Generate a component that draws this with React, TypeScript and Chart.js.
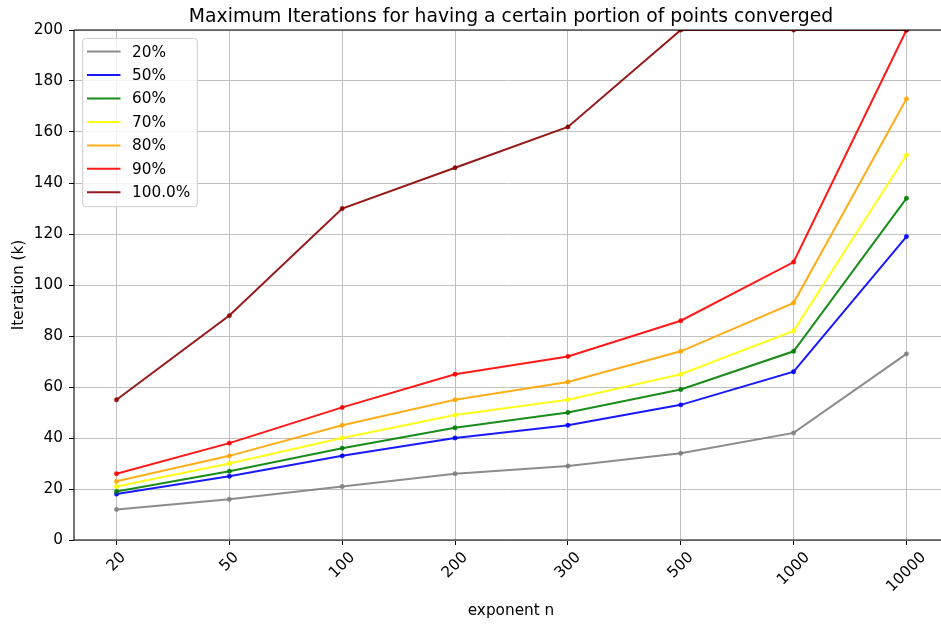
import React, { useEffect, useRef } from "react";
import { Chart, registerables } from "chart.js";

Chart.register(...registerables);

const CATEGORIES = ["20", "50", "100", "200", "300", "500", "1000", "10000"];
const SERIES_LABELS = ["20%", "50%", "60%", "70%", "80%", "90%", "100.0%"];
const S20 = [12, 16, 21, 26, 29, 34, 42, 73];
const S50 = [18, 25, 33, 40, 45, 53, 66, 119];
const S60 = [19, 27, 36, 44, 50, 59, 74, 134];
const S70 = [21, 30, 40, 49, 55, 65, 82, 151];
const S80 = [23, 33, 45, 55, 62, 74, 93, 173];
const S90 = [26, 38, 52, 65, 72, 86, 109, 200];
const S100 = [55, 88, 130, 146, 162, 200, 200, 200];
const Y_MIN = 0;
const Y_MAX = 200;
const Y_STEP = 20;

const TITLE = "Maximum Iterations for having a certain portion of points converged";
const X_TITLE = "exponent n";
const Y_TITLE = "Iteration (k)";

const SERIES = [S20, S50, S60, S70, S80, S90, S100];
const COLORS = [
  "rgba(128,128,128,0.9)",
  "rgba(0,0,255,0.9)",
  "rgba(0,128,0,0.9)",
  "rgba(255,255,0,0.9)",
  "rgba(255,165,0,0.9)",
  "rgba(255,0,0,0.9)",
  "rgba(139,0,0,0.9)",
];

const FONT = '"DejaVu Sans", "Liberation Sans", sans-serif';
const FS = 15.3;
const TITLE_FS = 18.8;

const overlayPlugin = {
  id: "overlay",
  afterDatasetsDraw(chart: any) {
    const { ctx, chartArea: a } = chart;
    const xs = chart.scales.x;
    ctx.save();
    // spines
    ctx.strokeStyle = "#000";
    ctx.lineWidth = 1.1;
    ctx.beginPath();
    ctx.moveTo(a.left, a.top);
    ctx.lineTo(a.right, a.top);
    ctx.moveTo(a.left, a.top);
    ctx.lineTo(a.left, a.bottom);
    ctx.lineTo(a.right, a.bottom);
    ctx.stroke();

    // title
    const cx = (a.left + 948) / 2;
    ctx.fillStyle = "#000";
    ctx.font = `${TITLE_FS}px ${FONT}`;
    ctx.textAlign = "center";
    ctx.textBaseline = "alphabetic";
    ctx.fillText(TITLE, cx, 21.5);

    // x tick labels rotated 45, centered on tick
    ctx.font = `${FS}px ${FONT}`;
    CATEGORIES.forEach((lab, i) => {
      const px = xs.getPixelForValue(i);
      const w = ctx.measureText(lab).width;
      const h = FS * 1.1;
      const side = (w + h) * Math.SQRT1_2;
      const cy = a.bottom + 9.2 + side / 2;
      ctx.save();
      ctx.translate(px, cy);
      ctx.rotate(-Math.PI / 4);
      ctx.textAlign = "center";
      ctx.textBaseline = "middle";
      ctx.fillText(lab, 0, 0);
      ctx.restore();
    });

    // x axis title
    ctx.textAlign = "center";
    ctx.textBaseline = "alphabetic";
    ctx.fillText(X_TITLE, cx, 615);

    // y axis title
    ctx.save();
    ctx.translate(19, (a.top + a.bottom) / 2);
    ctx.rotate(-Math.PI / 2);
    ctx.textAlign = "center";
    ctx.textBaseline = "middle";
    ctx.fillText(Y_TITLE, 0, 0);
    ctx.restore();

    // legend
    const lx = 82.7, ly = 38.3, lw = 114.6, lh = 168.4, r = 3.5;
    ctx.beginPath();
    ctx.moveTo(lx + r, ly);
    ctx.lineTo(lx + lw - r, ly);
    ctx.quadraticCurveTo(lx + lw, ly, lx + lw, ly + r);
    ctx.lineTo(lx + lw, ly + lh - r);
    ctx.quadraticCurveTo(lx + lw, ly + lh, lx + lw - r, ly + lh);
    ctx.lineTo(lx + r, ly + lh);
    ctx.quadraticCurveTo(lx, ly + lh, lx, ly + lh - r);
    ctx.lineTo(lx, ly + r);
    ctx.quadraticCurveTo(lx, ly, lx + r, ly);
    ctx.closePath();
    ctx.fillStyle = "rgba(255,255,255,0.8)";
    ctx.fill();
    ctx.strokeStyle = "#cccccc";
    ctx.lineWidth = 1;
    ctx.stroke();

    SERIES_LABELS.forEach((lab, i) => {
      const y = 51.6 + i * 23.45;
      ctx.strokeStyle = COLORS[i];
      ctx.lineWidth = 2;
      ctx.beginPath();
      ctx.moveTo(87, y);
      ctx.lineTo(120.5, y);
      ctx.stroke();
      ctx.fillStyle = "#000";
      ctx.textAlign = "left";
      ctx.textBaseline = "middle";
      ctx.fillText(lab, 132, y + 1);
    });
    ctx.restore();
  },
};

export default function App() {
  const ref = useRef<HTMLCanvasElement | null>(null);
  useEffect(() => {
    if (!ref.current) return;
    const yTicks: number[] = [];
    for (let v = Y_MIN; v <= Y_MAX; v += Y_STEP) yTicks.push(v);
    const chart = new Chart(ref.current, {
      type: "line",
      data: {
        datasets: SERIES.map((vals, i) => ({
          label: SERIES_LABELS[i],
          data: vals.map((v, j) => ({ x: j, y: v })),
          borderColor: COLORS[i],
          backgroundColor: COLORS[i],
          pointBackgroundColor: COLORS[i],
          pointBorderColor: COLORS[i],
          borderWidth: 2,
          pointRadius: 2.2,
          pointBorderWidth: 0.5,
          tension: 0,
          fill: false,
          order: SERIES.length - i,
          clip: 0,
        })),
      },
      options: {
        animation: false,
        responsive: false,
        devicePixelRatio: 1,
        layout: { autoPadding: false, padding: { top: 30, left: 0, right: 0, bottom: 0 } },
        plugins: {
          legend: { display: false },
          title: { display: false },
          tooltip: { enabled: false },
        },
        scales: {
          x: {
            type: "linear",
            min: -0.3766,
            max: 7.306,
            afterBuildTicks: (s: any) => {
              s.ticks = CATEGORIES.map((_, i) => ({ value: i }));
            },
            afterFit: (s: any) => {
              s.height = 86;
            },
            ticks: { display: false },
            grid: {
              color: "#c0c0c0",
              lineWidth: 1,
              drawTicks: true,
              tickLength: 5,
              tickColor: "#000",
            },
            border: { display: false },
          },
          y: {
            type: "linear",
            min: Y_MIN,
            max: Y_MAX,
            afterBuildTicks: (s: any) => {
              s.ticks = yTicks.map((v) => ({ value: v }));
            },
            afterFit: (s: any) => {
              s.width = 74;
            },
            ticks: {
              color: "#000",
              padding: 6,
              font: { family: FONT, size: FS },
            },
            grid: {
              color: "#c0c0c0",
              lineWidth: 1,
              drawTicks: true,
              tickLength: 5,
              tickColor: "#000",
            },
            border: { display: false },
          },
        },
      },
      plugins: [overlayPlugin],
    });
    return () => chart.destroy();
  }, []);
  return (
    <div style={{ position: "absolute", left: 0, top: 0, width: 941, height: 626, background: "#fff" }}>
      <canvas ref={ref} width={941} height={626} style={{ display: "block" }} />
    </div>
  );
}
